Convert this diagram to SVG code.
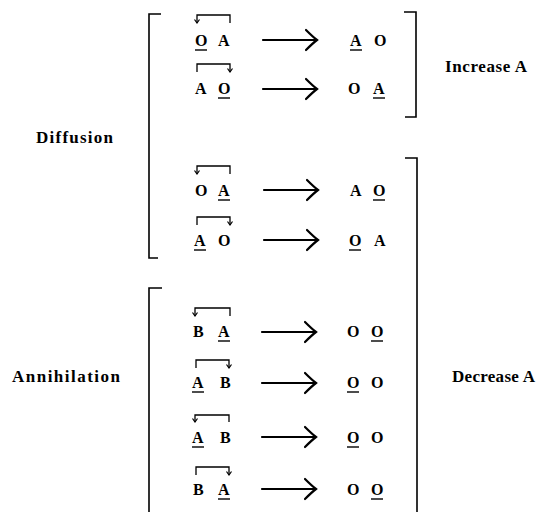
<svg xmlns="http://www.w3.org/2000/svg" width="545" height="512" viewBox="0 0 545 512">
<style>
text{font-family:"Liberation Serif","Times New Roman",serif;font-weight:bold;fill:#000}
.lab{font-size:17px}
.l{font-size:16px}
.br{fill:none;stroke:#000;stroke-width:1.6}
.ul{stroke:#000;stroke-width:1.4}
.arc{fill:none;stroke:#000;stroke-width:1.3;marker-end:url(#ah)}
.arr{fill:none;stroke:#000;stroke-width:2.2;stroke-linecap:round}
</style>
<defs>
<marker id="ah" markerWidth="6" markerHeight="6" refX="3" refY="5" orient="0" markerUnits="userSpaceOnUse">
<path d="M0.5,1.5 L3,5 L5.5,1.5" fill="none" stroke="#000" stroke-width="1.2"/>
</marker>
<g id="bigarrow"><path class="arr" d="M0,0 H53 M43,-10 Q50,-3 54,0 Q50,3 43,10"/></g>
</defs>
<g id="labels">
<text class="lab" x="36" y="143" textLength="77">Diffusion</text>
<text class="lab" x="12" y="382" textLength="108">Annihilation</text>
<text class="lab" x="445" y="72" textLength="82">Increase A</text>
<text class="lab" x="452" y="382" textLength="83">Decrease A</text>
</g>
<g id="brackets">
<path class="br" d="M161,14 H149 V258 H158"/>
<path class="br" d="M162,288 H149 V512"/>
<path class="br" d="M404,12 H416 V117 H405"/>
<path class="br" d="M405,158 H417 V512"/>
</g>
<g id="row1">
<text class="l" x="195" y="46">O</text><text class="l" x="218" y="46">A</text>
<line class="ul" x1="195" y1="50" x2="207" y2="50"/>
<path class="arc" d="M230,23 V15 H197 V23"/>
<use href="#bigarrow" x="263" y="40"/>
<text class="l" x="350" y="46">A</text><text class="l" x="374" y="46">O</text>
<line class="ul" x1="350" y1="50" x2="362" y2="50"/>
</g>
<g id="row2">
<text class="l" x="195" y="94">A</text><text class="l" x="218" y="94">O</text>
<line class="ul" x1="218" y1="98" x2="230" y2="98"/>
<path class="arc" d="M197,72 V64 H230 V72"/>
<use href="#bigarrow" x="263" y="89"/>
<text class="l" x="348" y="94">O</text><text class="l" x="373" y="94">A</text>
<line class="ul" x1="373" y1="98" x2="385" y2="98"/>
</g>
<g id="row3">
<text class="l" x="195" y="196">O</text><text class="l" x="218" y="196">A</text>
<line class="ul" x1="218" y1="200" x2="230" y2="200"/>
<path class="arc" d="M230,174 V166 H197 V174"/>
<use href="#bigarrow" x="264" y="190"/>
<text class="l" x="350" y="196">A</text><text class="l" x="373" y="196">O</text>
<line class="ul" x1="373" y1="200" x2="385" y2="200"/>
</g>
<g id="row4">
<text class="l" x="194" y="246">A</text><text class="l" x="218" y="246">O</text>
<line class="ul" x1="194" y1="250" x2="206" y2="250"/>
<path class="arc" d="M197,225 V217 H230 V225"/>
<use href="#bigarrow" x="264" y="240"/>
<text class="l" x="349" y="246">O</text><text class="l" x="374" y="246">A</text>
<line class="ul" x1="349" y1="250" x2="361" y2="250"/>
</g>
<g id="row5">
<text class="l" x="193" y="337">B</text><text class="l" x="218" y="337">A</text>
<line class="ul" x1="218" y1="341" x2="230" y2="341"/>
<path class="arc" d="M230,316 V308 H195 V316"/>
<use href="#bigarrow" x="262" y="332"/>
<text class="l" x="347" y="337">O</text><text class="l" x="371" y="337">O</text>
<line class="ul" x1="371" y1="341" x2="383" y2="341"/>
</g>
<g id="row6">
<text class="l" x="192" y="388">A</text><text class="l" x="220" y="388">B</text>
<line class="ul" x1="192" y1="392" x2="204" y2="392"/>
<path class="arc" d="M196,368 V360 H229 V368"/>
<use href="#bigarrow" x="262" y="383"/>
<text class="l" x="347" y="388">O</text><text class="l" x="371" y="388">O</text>
<line class="ul" x1="347" y1="392" x2="359" y2="392"/>
</g>
<g id="row7">
<text class="l" x="192" y="443">A</text><text class="l" x="220" y="443">B</text>
<line class="ul" x1="192" y1="447" x2="204" y2="447"/>
<path class="arc" d="M229,422 V415 H195 V422"/>
<use href="#bigarrow" x="262" y="437"/>
<text class="l" x="347" y="443">O</text><text class="l" x="371" y="443">O</text>
<line class="ul" x1="347" y1="447" x2="359" y2="447"/>
</g>
<g id="row8">
<text class="l" x="193" y="495">B</text><text class="l" x="218" y="495">A</text>
<line class="ul" x1="218" y1="499" x2="230" y2="499"/>
<path class="arc" d="M196,475 V467 H229 V475"/>
<use href="#bigarrow" x="262" y="489"/>
<text class="l" x="347" y="495">O</text><text class="l" x="371" y="495">O</text>
<line class="ul" x1="371" y1="499" x2="383" y2="499"/>
</g>
</svg>
